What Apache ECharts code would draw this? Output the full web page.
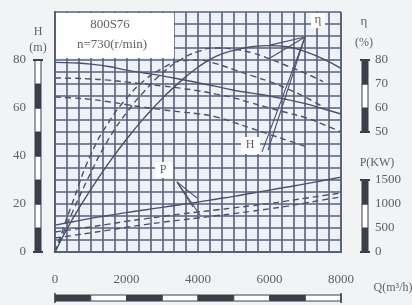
<!DOCTYPE html>
<html>
<head>
<meta charset="utf-8">
<script src="https://cdn.jsdelivr.net/npm/echarts@6/dist/echarts.min.js"></script>
<style>
html, body { margin: 0; padding: 0; background: #f1f3f5; }
#main { width: 412px; height: 305px; }
</style>
</head>
<body>
<div id="main"></div>
<script>
// 800S76 pump curves
var flow = [0, 500, 1000, 1500, 2000, 2500, 3000, 3500, 4000, 4500, 5000, 5500, 6000, 6500, 7000, 7500, 8000];

// head (m)
var headFull = [79, 78.8, 78.3, 77.3, 75.8, 74.6, 73.4, 72, 70.5, 69, 67.4, 66.2, 65, 63.5, 61.8, 59.7, 57.5];
var headCutA = [72.5, 72.4, 72.1, 71.6, 70.8, 70, 69.2, 68.3, 67.2, 65.8, 64.2, 62.1, 60, 58, 56, 53.2, 50];
var headCutB = [64.6, 64.2, 63.6, 62.6, 61.4, 60.3, 59.3, 58.4, 57.6, 56.3, 54, 51.5, 49, 46.5, 44, null, null];

// efficiency (%)
var etaFull = [0, 14, 26, 37, 47, 56, 64, 71, 77, 81.5, 84, 85.5, 86, 85.5, 83.5, 80.5, 76.5];
var etaCutA = [0, 17, 33, 47, 58, 67, 74.5, 80, 83.5, 85, 84.5, 83, 80.5, 77.5, 74.5, 71, null];
var etaCutB = [0, 21, 40.5, 54, 64, 71.5, 76.5, 79.5, 80, 78.5, 76, 73.5, 71, 68, 64.5, 60.5, null];

// shaft power (kW)
var powerFull = [560, 630, 700, 760, 820, 875, 930, 985, 1040, 1100, 1160, 1225, 1290, 1355, 1420, 1490, 1560];
var powerCutA = [417, 470, 525, 580, 640, 690, 740, 790, 833, 875, 920, 965, 1010, 1065, 1120, 1175, 1229];
var powerCutB = [292, 345, 400, 455, 515, 570, 620, 665, 708, 755, 800, 850, 900, 955, 1020, 1085, 1146];

// tick labels
var qTicks = [0, 2000, 4000, 6000, 8000];
var hTicks = [0, 20, 40, 60, 80];
var etaTicks = [50, 60, 70, 80];
var pTicks = [0, 500, 1000, 1500];

// leader lines (Q, H units)
var hLeader1 = [[5790, 41.7], [6993, 89.6]];
var hLeader2 = [[5960, 42.5], [6993, 89.6]];
var etaLeader1 = [[6993, 89.6], [6014, 86.2]];
var etaLeader2 = [[6993, 89.6], [6014, 80.8]];
var pLeader1 = [[3412, 29.2], [3972, 22.5]];
var pLeader2 = [[3412, 29.2], [4056, 15.4]];
var pLeader3 = [[3412, 29.2], [3860, 18.8]];

var ink = '#4a5170';
var gridInk = '#59607c';
var textInk = '#5e6268';
var serif = '"Liberation Serif", "DejaVu Serif", serif';

function pairs(vals) {
    return flow.map(function (q, i) { return [q, vals[i]]; });
}
function curve(name, vals, yIdx, dashed) {
    return {
        name: name, type: 'line', xAxisIndex: 0, yAxisIndex: yIdx,
        data: pairs(vals), smooth: true, symbol: 'none', silent: true, connectNulls: false,
        lineStyle: { color: ink, width: 1.4, type: dashed ? [6, 4] : 'solid' }
    };
}
function leader(pts) {
    return {
        type: 'line', xAxisIndex: 0, yAxisIndex: 0, data: pts, symbol: 'none', silent: true,
        lineStyle: { color: ink, width: 1.1 }
    };
}
function pick(list) {
    return function (v) { return list.indexOf(Math.round(v)) >= 0 ? String(Math.round(v)) : ''; };
}

var chart = echarts.init(document.getElementById('main'));

var option = {
    animation: false,
    backgroundColor: '#f1f3f5',
    grid: { left: 55, right: 71, top: 12, bottom: 53, show: true, backgroundColor: '#eef2f6', borderWidth: 0 },
    xAxis: [
        { type: 'value', min: 0, max: 8000, interval: 8000 / 24, position: 'top',
          axisLabel: { show: false }, axisTick: { show: false },
          axisLine: { show: true, lineStyle: { color: gridInk, width: 2 } },
          splitLine: { show: true, lineStyle: { color: gridInk, width: 1.6 } } },
        { type: 'value', min: 0, max: 8000, interval: 2000, position: 'bottom',
          axisTick: { show: false }, splitLine: { show: false },
          axisLine: { show: true, lineStyle: { color: gridInk, width: 2 } },
          axisLabel: { margin: 21, color: textInk, fontFamily: serif, fontSize: 13, formatter: pick(qTicks) } }
    ],
    yAxis: [
        { type: 'value', min: 0, max: 100, interval: 5, position: 'right',
          axisLabel: { show: false }, axisTick: { show: false },
          axisLine: { show: true, lineStyle: { color: gridInk, width: 2 } },
          splitLine: { show: true, lineStyle: { color: gridInk, width: 1.6 } } },
        { type: 'value', min: 0, max: 100, interval: 20, position: 'left',
          axisTick: { show: false }, splitLine: { show: false },
          axisLine: { show: true, lineStyle: { color: gridInk, width: 2 } },
          axisLabel: { margin: 29, color: textInk, fontFamily: serif, fontSize: 13, formatter: pick(hTicks) } },
        { type: 'value', min: 0, max: 100, interval: 10, position: 'right',
          axisTick: { show: false }, splitLine: { show: false }, axisLine: { show: false },
          axisLabel: { margin: 34, color: textInk, fontFamily: serif, fontSize: 13, formatter: pick(etaTicks) } },
        { type: 'value', min: 0, max: 5000, interval: 500, position: 'right',
          axisTick: { show: false }, splitLine: { show: false }, axisLine: { show: false },
          axisLabel: { margin: 34, color: textInk, fontFamily: serif, fontSize: 13, formatter: pick(pTicks) } }
    ],
    series: [
        curve('H', headFull, 0, false),
        curve('H A', headCutA, 0, true),
        curve('H B', headCutB, 0, true),
        curve('eta', etaFull, 2, false),
        curve('eta A', etaCutA, 2, true),
        curve('eta B', etaCutB, 2, true),
        curve('P', powerFull, 3, false),
        curve('P A', powerCutA, 3, true),
        curve('P B', powerCutB, 3, true),
        leader(hLeader1), leader(hLeader2),
        leader(etaLeader1), leader(etaLeader2),
        leader(pLeader1), leader(pLeader2), leader(pLeader3)
    ]
};
chart.setOption(option);

// scale bars beside the axes, placed through the axis scales
var g = [];
function vBar(x, axisIdx, from, to, step, darkFirst) {
    var k = 0;
    for (var v = from; v < to; v += step, k++) {
        var y0 = chart.convertToPixel({ yAxisIndex: axisIdx }, v);
        var y1 = chart.convertToPixel({ yAxisIndex: axisIdx }, v + step);
        var dark = (k % 2 === 0) === darkFirst;
        g.push({ type: 'rect', shape: { x: x, y: y1, width: 6, height: y0 - y1 },
                 style: { fill: dark ? '#3b3f48' : '#ffffff', stroke: '#3b3f48', lineWidth: 1 } });
    }
    [from, to].forEach(function (v) {
        var y = chart.convertToPixel({ yAxisIndex: axisIdx }, v);
        g.push({ type: 'line', shape: { x1: x - 2, y1: y, x2: x + 8, y2: y }, style: { stroke: '#3b3f48', lineWidth: 2 } });
    });
}
vBar(35, 1, 0, 80, 10, true);
vBar(362, 2, 50, 80, 10, true);
vBar(362, 3, 0, 1500, 500, true);
(function () {
    var k = 0;
    for (var q = 0; q < 8000; q += 1000, k++) {
        var x0 = chart.convertToPixel({ xAxisIndex: 1 }, q);
        var x1 = chart.convertToPixel({ xAxisIndex: 1 }, q + 1000);
        g.push({ type: 'rect', shape: { x: x0, y: 295, width: x1 - x0, height: 6 },
                 style: { fill: k % 2 === 0 ? '#3b3f48' : '#ffffff', stroke: '#3b3f48', lineWidth: 1 } });
    }
    [0, 8000].forEach(function (q) {
        var x = chart.convertToPixel({ xAxisIndex: 1 }, q);
        g.push({ type: 'line', shape: { x1: x, y1: 293, x2: x, y2: 303 }, style: { stroke: '#3b3f48', lineWidth: 1.5 } });
    });
})();

function txt(x, y, s, size, align) {
    g.push({ type: 'text', x: x, y: y, z: 10,
             style: { text: s, fill: textInk, font: size + 'px ' + serif, align: align || 'center', verticalAlign: 'middle' } });
}
// title box in the plot
g.push({ type: 'rect', z: 5, shape: { x: 56, y: 13, width: 118, height: 45 }, style: { fill: '#ffffff' } });
txt(110, 25, '800S76', 13);
txt(112, 45, 'n=730(r/min)', 13);
// curve labels
g.push({ type: 'rect', z: 5, shape: { x: 311, y: 13, width: 14, height: 15 }, style: { fill: '#ffffff' } });
txt(318, 20, 'η', 13);
g.push({ type: 'rect', z: 5, shape: { x: 241, y: 137, width: 19, height: 17 }, style: { fill: '#ffffff' } });
txt(250, 145, 'H', 12);
g.push({ type: 'rect', z: 5, shape: { x: 155, y: 162, width: 18, height: 16 }, style: { fill: '#ffffff' } });
txt(163, 170, 'P', 12);
// axis names
txt(38, 32, 'H', 12);
txt(38, 48, '(m)', 12);
txt(364, 22, 'η', 13);
txt(364, 43, '(%)', 12);
txt(377, 163, 'P(KW)', 12);
txt(393, 288, 'Q(m³/h)', 12);

chart.setOption({ graphic: g });
</script>
</body>
</html>
